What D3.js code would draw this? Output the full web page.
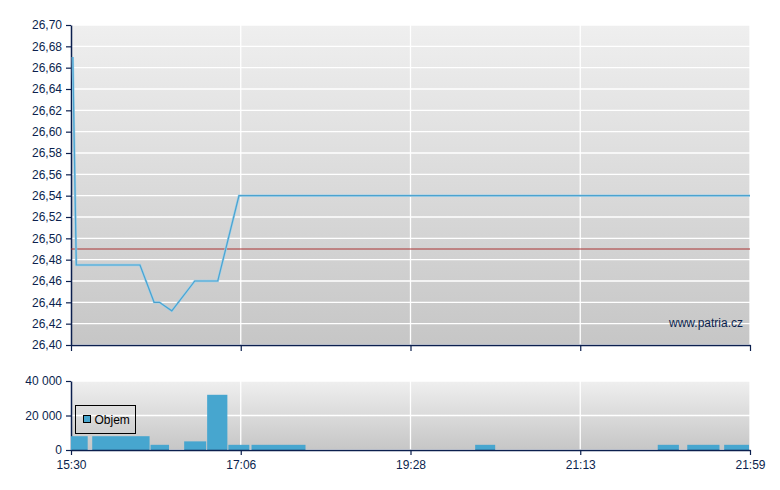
<!DOCTYPE html>
<html>
<head>
<meta charset="utf-8">
<script src="https://cdn.jsdelivr.net/npm/d3@7"></script>
<style>
  body { margin: 0; background: #fff; }
  text { font-family: "Liberation Sans", Arial, sans-serif; }
</style>
</head>
<body>
<div class="chart"></div>
<script>
// axis ticks (equally spaced on the chart)
const tickLabels = ["15:30", "17:06", "19:28", "21:13", "21:59"];

// price line
const priceTimes = ["15:31", "15:33", "16:09", "16:17", "16:20", "16:27", "16:40", "16:53", "17:05", "21:59"];
const priceValues = [26.67, 26.475, 26.475, 26.44, 26.44, 26.432, 26.46, 26.46, 26.54, 26.54];
const prevClose = 26.49;
const priceTicks = [26.40, 26.42, 26.44, 26.46, 26.48, 26.50, 26.52, 26.54, 26.56, 26.58, 26.60, 26.62, 26.64, 26.66, 26.68, 26.70];

// volume bars
const volStart = ["15:30", "15:42", "16:15", "16:34", "16:47", "16:59", "17:15", "20:08", "21:34", "21:42", "21:52"];
const volEnd   = ["15:40", "16:15", "16:26", "16:47", "16:59", "17:14", "18:01", "20:21", "21:40", "21:51", "21:59"];
const volValues = [8000, 8000, 3000, 5000, 32000, 3000, 3000, 3000, 3000, 3000, 3000];
const volTicks = [0, 20000, 40000];

const toMin = s => { const p = s.split(":"); return +p[0] * 60 + +p[1]; };

const W = 780, H = 490;
const left = 71, right = 750;
const navy = "#0b1f4e";

const svg = d3.select(".chart").append("svg")
  .attr("width", W).attr("height", H);

const defs = svg.append("defs");
const grad = defs.append("linearGradient").attr("id", "bg")
  .attr("x1", 0).attr("y1", 0).attr("x2", 0).attr("y2", 1);
grad.append("stop").attr("offset", "0%").attr("stop-color", "#efefef");
grad.append("stop").attr("offset", "100%").attr("stop-color", "#c6c6c6");

// polylinear time scale: labels are equally spaced
const w = right - left;
const x = d3.scaleLinear()
  .domain(tickLabels.map(toMin))
  .range(tickLabels.map((d, i) => left + i * w / (tickLabels.length - 1)));

function panel(top, bottom, y, yTicks, fmt) {
  const g = svg.append("g");
  g.append("rect")
    .attr("x", left).attr("y", top)
    .attr("width", w).attr("height", bottom - top)
    .attr("fill", "url(#bg)");
  // horizontal grid
  g.selectAll(".hg").data(yTicks).enter().append("line")
    .attr("x1", left).attr("x2", right)
    .attr("y1", d => y(d)).attr("y2", d => y(d))
    .attr("stroke", "#fff").attr("stroke-width", 1.3);
  // vertical grid
  g.selectAll(".vg").data(tickLabels.map(toMin)).enter().append("line")
    .attr("x1", d => x(d)).attr("x2", d => x(d))
    .attr("y1", top).attr("y2", bottom)
    .attr("stroke", "#fff").attr("stroke-width", 1.3);

  const ya = g.append("g")
    .attr("transform", `translate(${left},0)`)
    .call(d3.axisLeft(y).tickValues(yTicks).tickFormat(fmt).tickSize(5).tickSizeOuter(0));
  ya.select(".domain").attr("stroke", navy).attr("stroke-width", 1.5);
  ya.selectAll(".tick line").attr("stroke", navy).attr("stroke-width", 1.2);
  ya.selectAll("text").attr("fill", navy).style("font-size", "12px")
    .attr("font-family", "Liberation Sans, Arial, sans-serif").attr("dx", "-1");
  return g;
}

// ---- price panel ----
const top1 = 25, bot1 = 345;
const y = d3.scaleLinear().domain([26.40, 26.70]).range([bot1, top1]);
const fmtPrice = d => d.toFixed(2).replace(".", ",");
const p1 = panel(top1, bot1, y, priceTicks, fmtPrice);

p1.append("line")
  .attr("x1", left).attr("x2", right)
  .attr("y1", y(prevClose)).attr("y2", y(prevClose))
  .attr("stroke", "#a83232").attr("stroke-width", 1);

const line = d3.line().x(d => x(toMin(d[0]))).y(d => y(d[1]));
const pts = priceTimes.map((t, i) => [t, priceValues[i]]);
p1.append("path").datum(pts)
  .attr("d", line).attr("fill", "none")
  .attr("stroke", "#9fd0ea").attr("stroke-width", 2.4);
p1.append("path").datum(pts)
  .attr("d", line).attr("fill", "none")
  .attr("stroke", "#4ba3cf").attr("stroke-width", 1.2);

const xa1 = p1.append("g").attr("transform", `translate(0,${bot1})`)
  .call(d3.axisBottom(x).tickValues(tickLabels.map(toMin)).tickFormat("").tickSize(6).tickSizeOuter(0));
xa1.select(".domain").attr("stroke", navy).attr("stroke-width", 1.5);
xa1.selectAll(".tick line").attr("stroke", navy).attr("stroke-width", 1.2);

p1.append("text")
  .attr("x", 743).attr("y", 327)
  .attr("text-anchor", "end")
  .attr("fill", navy).style("font-size", "12px")
  .text("www.patria.cz");

// ---- volume panel ----
const top2 = 381, bot2 = 450;
const yv = d3.scaleLinear().domain([0, 40000]).range([bot2, top2]);
const fmtVol = d => d3.format(",")(d).replace(/,/g, " ");
const p2 = panel(top2, bot2, yv, volTicks, fmtVol);

p2.selectAll(".bar").data(volValues).enter().append("rect")
  .attr("class", "bar")
  .attr("x", (d, i) => x(toMin(volStart[i])))
  .attr("width", (d, i) => Math.max(1, x(toMin(volEnd[i])) - x(toMin(volStart[i])) - 1))
  .attr("y", d => yv(d))
  .attr("height", d => bot2 - yv(d))
  .attr("fill", "#47a6cf");

const xa2 = p2.append("g").attr("transform", `translate(0,${bot2})`)
  .call(d3.axisBottom(x).tickValues(tickLabels.map(toMin))
    .tickFormat((d, i) => tickLabels[i]).tickSize(5).tickSizeOuter(0));
xa2.select(".domain").attr("stroke", navy).attr("stroke-width", 1.5);
xa2.selectAll(".tick line").attr("stroke", navy).attr("stroke-width", 1.2);
xa2.selectAll("text").attr("fill", navy).style("font-size", "12px")
  .attr("font-family", "Liberation Sans, Arial, sans-serif").attr("dy", "0.9em");

// legend
const lg = p2.append("g").attr("transform", "translate(75.5,405.5)");
lg.append("rect").attr("width", 60).attr("height", 28)
  .attr("fill", "none").attr("stroke", "#000").attr("stroke-width", 1);
lg.append("rect").attr("x", 8).attr("y", 10).attr("width", 7).attr("height", 7)
  .attr("fill", "#47a6cf").attr("stroke", "#000").attr("stroke-width", 1);
lg.append("text").attr("x", 19).attr("y", 18.5)
  .attr("fill", "#000").style("font-size", "12px").text("Objem");
</script>
</body>
</html>
